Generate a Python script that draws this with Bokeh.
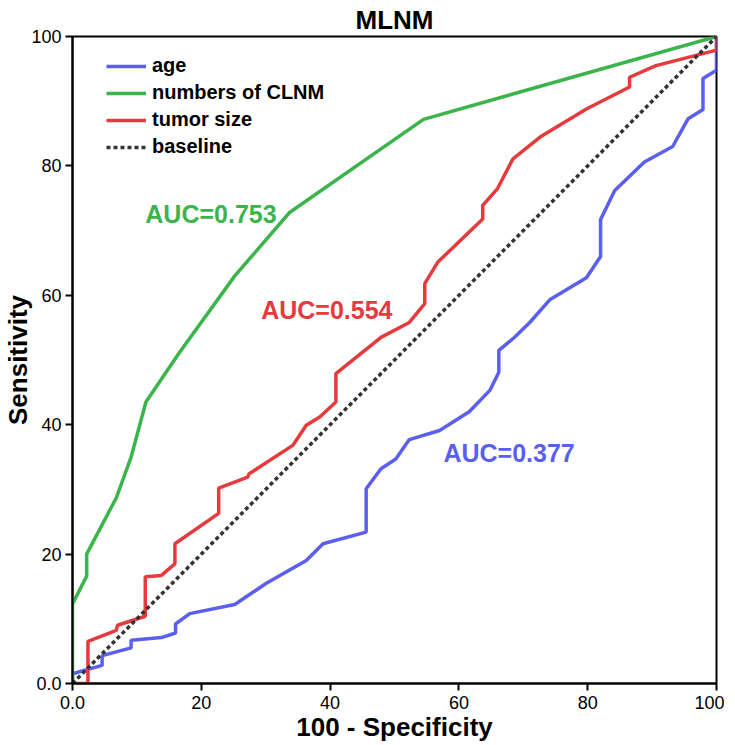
from bokeh.plotting import figure
from bokeh.embed import file_html
from bokeh.resources import INLINE
from bokeh.models import Legend, LegendItem, FixedTicker, Range1d
from bokeh.core.properties import value

# ---- data ----
age_x = [0, 0, 4.6, 4.6, 9.1, 9.1, 13.8, 16.0, 16.0, 18.2, 25.2, 30.1, 36.3, 38.9, 45.6, 45.6,
         47.9, 50.2, 52.3, 57.0, 61.6, 64.8, 66.2, 66.2, 68.4, 71.0, 74.1, 79.8, 82.0, 82.0,
         84.2, 88.8, 93.2, 95.6, 97.9, 97.9, 100, 100]
age_y = [0, 1.5, 2.8, 4.3, 5.5, 6.7, 7.1, 7.8, 9.2, 10.8, 12.2, 15.5, 19.0, 21.6, 23.4, 30.1,
         33.2, 34.7, 37.7, 39.1, 42.0, 45.3, 48.1, 51.5, 53.3, 55.8, 59.3, 62.7, 66.0, 71.7,
         76.2, 80.6, 83.0, 87.3, 88.7, 93.5, 94.8, 100]

clnm_x = [0, 0, 2.2, 2.2, 6.8, 9.1, 11.4, 16.5, 25.2, 33.7, 54.5, 100]
clnm_y = [0, 12.3, 16.6, 20.0, 28.7, 35.0, 43.5, 51.0, 63.0, 72.8, 87.2, 100]

size_x = [0, 2.4, 2.4, 6.8, 7.0, 11.3, 11.3, 13.8, 15.9, 15.9, 22.7, 22.7, 27.2, 27.4, 34.2,
          36.3, 38.4, 40.9, 40.9, 47.9, 52.3, 54.7, 54.7, 56.7, 63.7, 63.7, 66.0, 68.4, 72.8,
          79.8, 86.5, 86.5, 90.6, 100, 100]
size_y = [0, 0, 6.5, 8.2, 9.0, 10.4, 16.5, 16.7, 18.5, 21.6, 26.3, 30.2, 31.9, 32.4, 36.8,
          39.9, 41.2, 43.5, 47.9, 53.5, 55.8, 58.7, 61.8, 65.1, 71.8, 73.9, 76.5, 81.1, 84.6,
          88.8, 92.2, 93.7, 95.5, 97.9, 100]

base_x = [0, 100]
base_y = [0, 100]

series_names = ["age", "numbers of CLNM", "tumor size", "baseline"]
auc_labels = ["AUC=0.377", "AUC=0.753", "AUC=0.554"]
auc_x = [57.6, 11.3, 29.3]
auc_y = [35.7, 72.5, 57.8]
x_ticks = [0, 20, 40, 60, 80, 100]
y_ticks = [0, 20, 40, 60, 80, 100]

BLUE = "#5b5ff0"
GREEN = "#3cb44c"
RED = "#e63a3d"
DARK = "#333333"
FONT = "Liberation Sans"

p = figure(frame_width=644, frame_height=647, output_backend="svg", toolbar_location=None,
           x_range=Range1d(0, 100), y_range=Range1d(0, 100),
           min_border_left=66, min_border_top=26, min_border_right=8, min_border_bottom=50,
           title="MLNM")
p.title.align = "center"
p.title.text_font = FONT
p.title.text_font_size = "26px"
p.title.text_font_style = "bold"
p.title.text_color = "black"
p.title.offset = 0
p.title.standoff = 4

p.grid.visible = False
p.outline_line_color = "black"
p.outline_line_width = 2
p.outline_line_alpha = 1

for ax in (p.xaxis[0], p.yaxis[0]):
    ax.axis_line_width = 2
    ax.major_tick_line_width = 2
    ax.major_tick_out = 7
    ax.major_tick_in = 0
    ax.minor_tick_line_color = None
    ax.major_label_text_font = FONT
    ax.major_label_text_font_size = "18px"
    ax.major_label_text_color = "black"
    ax.axis_label_text_font = FONT
    ax.axis_label_text_font_size = "26px"
    ax.axis_label_text_font_style = "bold"
    ax.axis_label_text_color = "black"

p.xaxis.ticker = FixedTicker(ticks=x_ticks)
p.yaxis.ticker = FixedTicker(ticks=y_ticks)
p.xaxis.major_label_overrides = {0: "0.0"}
p.yaxis.major_label_overrides = {0: "0.0"}
p.xaxis.axis_label = "100 - Specificity"
p.yaxis.axis_label = "Sensitivity"
p.xaxis.major_label_standoff = 5
p.yaxis.major_label_standoff = 4
p.xaxis.axis_label_standoff = 0
p.yaxis.axis_label_standoff = -5

r_age = p.line(age_x, age_y, line_color=BLUE, line_width=3.5)
r_clnm = p.line(clnm_x, clnm_y, line_color=GREEN, line_width=3.5)
r_size = p.line(size_x, size_y, line_color=RED, line_width=3.5)
r_base = p.line(base_x, base_y, line_color=DARK, line_width=3.5, line_dash="4 3")

auc_colors = [BLUE, GREEN, RED]
p.text(x=auc_x, y=auc_y, text=auc_labels, text_color=auc_colors,
       text_font=value(FONT), text_font_size="25px", text_font_style="bold",
       text_baseline="middle", text_align="left")

legend = Legend(items=[LegendItem(label=n, renderers=[r]) for n, r in
                       zip(series_names, [r_age, r_clnm, r_size, r_base])],
                location=(34, 525))
legend.border_line_color = None
legend.background_fill_alpha = 0
legend.padding = 4
legend.margin = 0
legend.spacing = 4
legend.glyph_width = 40
legend.glyph_height = 22
legend.label_height = 22
legend.label_standoff = 6
legend.label_text_font = FONT
legend.label_text_font_size = "20px"
legend.label_text_font_style = "bold"
legend.label_text_color = "black"
p.add_layout(legend, "center")

open("out.html", "w").write(file_html(p, INLINE))
